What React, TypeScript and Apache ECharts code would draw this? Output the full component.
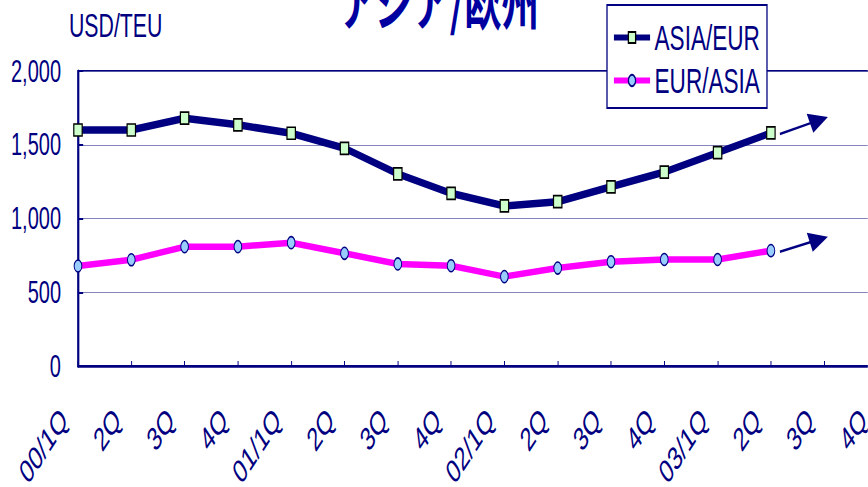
import React, { useEffect, useRef } from "react";
import * as echarts from "echarts";

// horizontal compression of the original drawing
const S = 1.55;
const W = 868;
const H = 487;
const CW = Math.round(W * S);

const categories = [
  "00/1Q", "00/2Q", "00/3Q", "00/4Q",
  "01/1Q", "01/2Q", "01/3Q", "01/4Q",
  "02/1Q", "02/2Q", "02/3Q", "02/4Q",
  "03/1Q", "03/2Q", "03/3Q", "03/4Q",
];
const tickLabels = [
  "00/1Q", "2Q", "3Q", "4Q",
  "01/1Q", "2Q", "3Q", "4Q",
  "02/1Q", "2Q", "3Q", "4Q",
  "03/1Q", "2Q", "3Q", "4Q",
];
const asiaEur = [1600, 1600, 1680, 1635, 1578, 1476, 1302, 1171, 1085, 1114, 1215, 1315, 1446, 1580];
const eurAsia = [678, 720, 809, 809, 836, 764, 692, 680, 606, 664, 707, 722, 722, 782];
const yTicks = [0, 500, 1000, 1500, 2000];

const NAVY = "#000080";
const FONT = "'Liberation Sans', Arial, sans-serif";

export default function App() {
  const ref = useRef<HTMLDivElement>(null);
  useEffect(() => {
    document.body.style.margin = "0";
    const chart = echarts.init(ref.current!, null, { renderer: "svg" });
    const catStep = 53.3 * S;
    chart.setOption({
      animation: false,
      backgroundColor: "#ffffff",
      grid: {
        left: 78 * S,
        top: 71,
        width: catStep * (categories.length - 1),
        height: 295,
        outerBoundsMode: "none",
        containLabel: false,
        show: true,
        borderColor: NAVY,
        borderWidth: 2,
        backgroundColor: "transparent",
      },
      legend: {
        data: [
          { name: "ASIA/EUR", lineStyle: { width: 6 } },
          { name: "EUR/ASIA", lineStyle: { width: 6 } },
        ],
        orient: "vertical",
        left: 607 * S,
        top: 5,
        backgroundColor: "#ffffff",
        borderColor: NAVY,
        borderWidth: 2,
        borderRadius: 0,
        padding: [13, 7 * S, 8, 5 * S],
        itemWidth: 56,
        itemHeight: 14,
        itemGap: 4,
        textStyle: { color: NAVY, fontSize: 35, fontFamily: FONT, lineHeight: 39, padding: [0, 0, 0, 2] },
      },
      xAxis: {
        type: "category",
        data: categories,
        boundaryGap: false,
        axisLine: { lineStyle: { color: NAVY, width: 2.5 } },
        axisTick: { inside: true, length: 5, lineStyle: { color: NAVY, width: 1.5 } },
        axisLabel: {
          interval: 0,
          rotate: 45,
          margin: 26,
          padding: [0, 31, 0, 0],
          color: NAVY,
          fontSize: 33,
          fontFamily: FONT,
          formatter: (_v: string, i: number) => tickLabels[i],
        },
        splitLine: { show: false },
      },
      yAxis: {
        type: "value",
        min: yTicks[0],
        max: yTicks[yTicks.length - 1],
        interval: 500,
        axisLine: { show: true, lineStyle: { color: NAVY, width: 3 } },
        axisTick: { show: true, inside: true, length: 8, lineStyle: { color: NAVY, width: 2 } },
        axisLabel: {
          margin: 17 * S,
          color: NAVY,
          fontSize: 31,
          fontFamily: FONT,
          formatter: (v: number) => v.toLocaleString("en-US"),
        },
        splitLine: { lineStyle: { color: "#6a6ab0", width: 1 } },
      },
      series: [
        {
          name: "ASIA/EUR",
          type: "line",
          data: asiaEur,
          symbol: "rect",
          symbolSize: [13, 12],
          lineStyle: { color: NAVY, width: 7.5 },
          itemStyle: { color: "#ccffcc", borderColor: "#000000", borderWidth: 1.8 },
          z: 3,
        },
        {
          name: "EUR/ASIA",
          type: "line",
          data: eurAsia,
          symbol: "circle",
          symbolSize: [12, 12],
          lineStyle: { color: "#ff00ff", width: 6.5 },
          itemStyle: { color: "#99ccff", borderColor: NAVY, borderWidth: 1.5 },
          z: 3,
        },
      ],
    });

    const arrowFrom = (seriesIndex: number, values: number[], rise: number) => {
      const last = values.length - 1;
      const p = chart.convertToPixel({ seriesIndex }, [last, values[last]]) as number[];
      // real-space offsets from last point, converted to chart space
      const sx = p[0] + 9 * S, sy = p[1] + 1;
      const tx = p[0] + 57 * S, ty = p[1] - rise;
      const dxr = 48, dyr = -rise - 1;
      const len = Math.sqrt(dxr * dxr + dyr * dyr);
      const ux = dxr / len, uy = dyr / len;
      const nx = -uy, ny = ux;
      const hl = 19, hw = 10;
      const bx = 57 - hl * ux, by = -rise - hl * uy;
      const c1 = [p[0] + (bx + hw * nx) * S, p[1] + by + hw * ny];
      const c2 = [p[0] + (bx - hw * nx) * S, p[1] + by - hw * ny];
      const mx = p[0] + (bx + 2) * S, my = p[1] + by + 2 * uy;
      return [
        { type: "line", shape: { x1: sx, y1: sy, x2: mx, y2: my }, style: { stroke: NAVY, lineWidth: 2.5 }, z: 10 },
        { type: "polygon", shape: { points: [[tx, ty], c1, c2] }, style: { fill: NAVY }, z: 10 },
      ];
    };

    chart.setOption({
      graphic: [
        {
          type: "text",
          x: 439 * S,
          y: -1,
          style: {
            text: "アジア/欧州",
            fill: "#0000a0",
            fontSize: 58,
            fontWeight: "bold",
            fontFamily: "'Noto Sans CJK JP', sans-serif",
            textAlign: "center",
            textVerticalAlign: "middle",
          },
        },
        {
          type: "text",
          x: 69 * S,
          y: 26,
          style: {
            text: "USD/TEU",
            fill: NAVY,
            fontSize: 33,
            fontFamily: FONT,
            textAlign: "left",
            textVerticalAlign: "middle",
          },
        },
        ...arrowFrom(0, asiaEur, 16),
        ...arrowFrom(1, eurAsia, 14),
      ],
    });
    return () => chart.dispose();
  }, []);

  return (
    <div style={{ position: "absolute", left: 0, top: 0, width: W, height: H, overflow: "hidden", background: "#fff" }}>
      <div
        ref={ref}
        style={{ width: CW, height: H, transform: `scaleX(${1 / S})`, transformOrigin: "0 0" }}
      />
    </div>
  );
}
